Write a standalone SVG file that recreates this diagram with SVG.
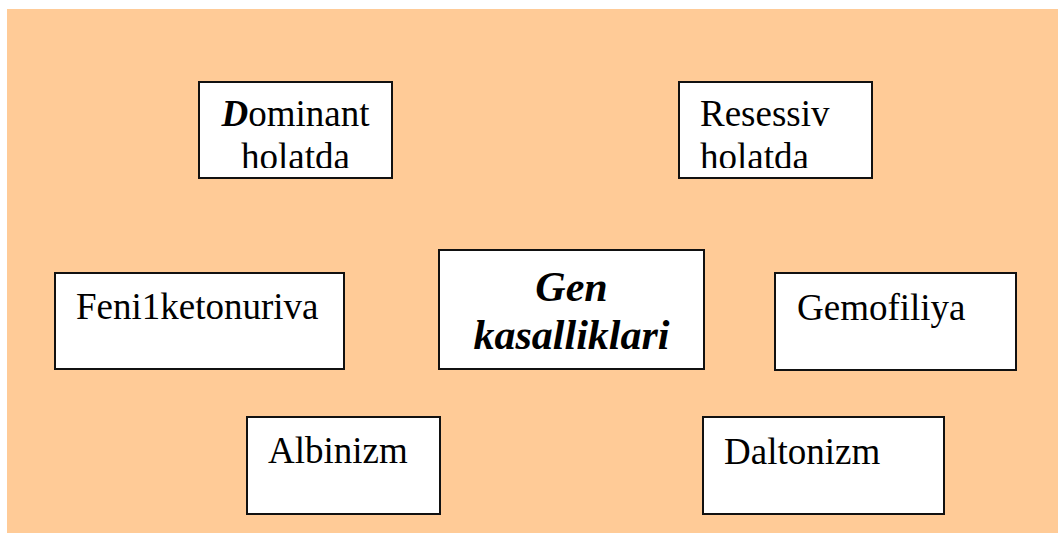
<svg xmlns="http://www.w3.org/2000/svg" width="1058" height="533" viewBox="0 0 1058 533">
  <style>
    .box { fill: #ffffff; stroke: #111111; stroke-width: 2; }
    .t { font-family: 'Liberation Serif', 'Nimbus Roman', Tinos, Times, 'DejaVu Serif', serif; font-size: 37px; fill: #000000; }
    .bi { font-weight: bold; font-style: italic; }
    .big { font-family: 'Liberation Serif', 'Nimbus Roman', Tinos, Times, 'DejaVu Serif', serif; font-size: 42px; font-weight: bold; font-style: italic; fill: #000000; }
  </style>
  <defs>
    <clipPath id="clipDom"><rect x="199" y="82" width="193" height="86"/></clipPath>
    <clipPath id="clipRes"><rect x="679" y="82" width="193" height="86"/></clipPath>
  </defs>
  <rect x="7" y="9" width="1051" height="524" fill="#FFCB97"/>
  <g id="connectors"></g>
  <g id="node-dominant">
    <rect class="box" x="199" y="82" width="193" height="96"/>
    <g clip-path="url(#clipDom)">
      <text class="t" x="295.5" y="126" text-anchor="middle"><tspan class="bi">D</tspan>ominant</text>
      <text class="t" x="295.5" y="169" text-anchor="middle">holatda</text>
    </g>
  </g>
  <g id="node-resessiv">
    <rect class="box" x="679" y="82" width="193" height="96"/>
    <g clip-path="url(#clipRes)">
      <text class="t" x="700" y="126">Resessiv</text>
      <text class="t" x="700" y="169">holatda</text>
    </g>
  </g>
  <g id="node-gen">
    <rect class="box" x="439" y="250" width="265" height="119"/>
    <text class="big" x="571.5" y="301" text-anchor="middle">Gen</text>
    <text class="big" x="571.5" y="349" text-anchor="middle">kasalliklari</text>
  </g>
  <g id="node-feni">
    <rect class="box" x="55" y="273" width="289" height="96"/>
    <text class="t" x="76" y="319" font-family="Liberation Serif, serif">Feni1ketonuriva</text>
  </g>
  <g id="node-gemofiliya">
    <rect class="box" x="775" y="273" width="241" height="97"/>
    <text class="t" x="797" y="320">Gemofiliya</text>
  </g>
  <g id="node-albinizm">
    <rect class="box" x="247" y="417" width="193" height="97"/>
    <text class="t" x="268" y="463">Albinizm</text>
  </g>
  <g id="node-daltonizm">
    <rect class="box" x="703" y="417" width="241" height="97"/>
    <text class="t" x="724" y="464">Daltonizm</text>
  </g>
</svg>
